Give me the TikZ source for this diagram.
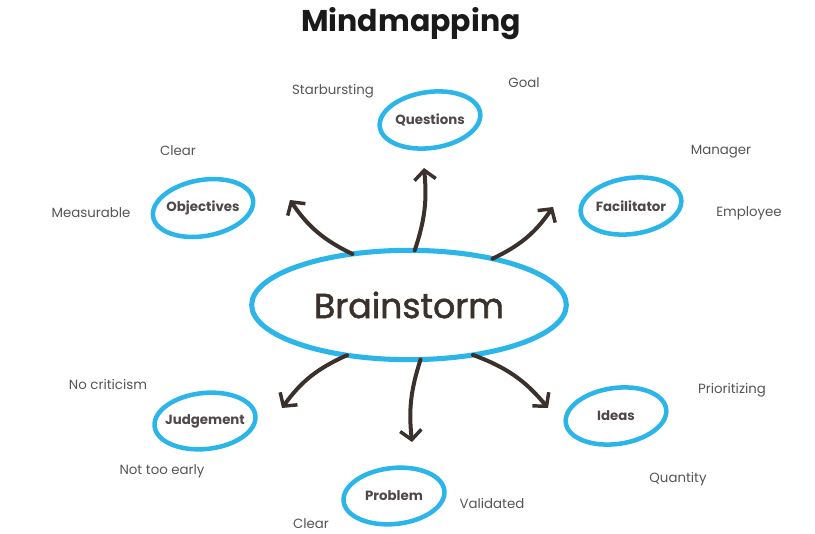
\documentclass[tikz,border=0pt]{standalone}
\usepackage{fontspec}
\setmainfont{Poppins}
\newfontfamily\brainfont{Poppins}[FakeBold=1.5]
\usetikzlibrary{arrows.meta,shapes.geometric}
\definecolor{skyb}{HTML}{2BB5E8}
\definecolor{ink}{HTML}{3A302C}
\definecolor{lbl}{HTML}{555555}
\definecolor{cpt}{HTML}{504848}
\definecolor{ttl}{HTML}{1A1A1A}
\begin{document}
\begin{tikzpicture}[x=0.75pt,y=0.75pt,
  ring/.style={draw=skyb,line width=3.4pt},
  concept/.style={font=\bfseries\fontsize{10}{12}\selectfont,text=cpt,inner sep=0pt},
  leaf/.style={font=\fontsize{10}{12}\selectfont,text=lbl,inner sep=0pt},
  arr/.style={draw=ink,line width=3pt,line cap=round,-{Straight Barb[length=7pt,width=16pt,line width=2.6pt]}}
]
\useasboundingbox (0,0) rectangle (815,-534);
\node[font=\bfseries\fontsize{22.5}{26}\selectfont,text=ttl] (title) at (411,-24) {Mindmapping};
% central idea
\node[ellipse,draw=skyb,line width=3.8pt,outer sep=0pt,inner sep=0pt,
      minimum width=236pt,minimum height=82pt,
      font=\brainfont\fontsize{26}{30}\selectfont,text=ink] (c) at (409,-305) {Brainstorm};
% concepts
\node[concept] (q) at (430,-120) {Questions};
\node[concept] (o) at (203,-208) {Objectives};
\node[concept] (f) at (631,-206) {Facilitator};
\node[concept] (j) at (205,-421) {Judgement};
\node[concept] (i) at (616,-416) {Ideas};
\node[concept] (p) at (394,-496) {Problem};
\foreach \n/\a in {q/8,o/10,f/8,j/6,i/8,p/6}{
  \draw[ring,rotate around={\a:(\n)}] (\n) ellipse [x radius=38pt,y radius=21pt];
}
% leaves
\node[leaf] (l1) at (333,-91) {Starbursting};
\node[leaf] (l2) at (524,-83) {Goal};
\node[leaf] (l3) at (178,-151) {Clear};
\node[leaf] (l4) at (91,-213) {Measurable};
\node[leaf] (l5) at (721,-152) {Manager};
\node[leaf] (l6) at (749,-213) {Employee};
\node[leaf] (l7) at (108,-384) {No criticism};
\node[leaf] (l8) at (162,-471) {Not too early};
\node[leaf] (l9) at (732,-390) {Prioritizing};
\node[leaf] (l10) at (678,-479) {Quantity};
\node[leaf] (l11) at (492,-503) {Validated};
\node[leaf] (l12) at (311,-524) {Clear};
% arrow ends
\coordinate (e1) at (290,-200);
\coordinate (e2) at (424,-168);
\coordinate (e3) at (553,-207);
\coordinate (e4) at (282,-408);
\coordinate (e5) at (412,-442);
\coordinate (e6) at (548,-408);
\draw[arr] (c.138) to[bend left=15] (e1);
\draw[arr] (c.84) to[bend right=12] (e2);
\draw[arr] (c.29) to[bend right=15] (e3);
\draw[arr] (c.219) to[bend right=15] (e4);
\draw[arr] (c.282) to[bend right=12] (e5);
\draw[arr] (c.322) to[bend left=15] (e6);
\end{tikzpicture}
\end{document}
